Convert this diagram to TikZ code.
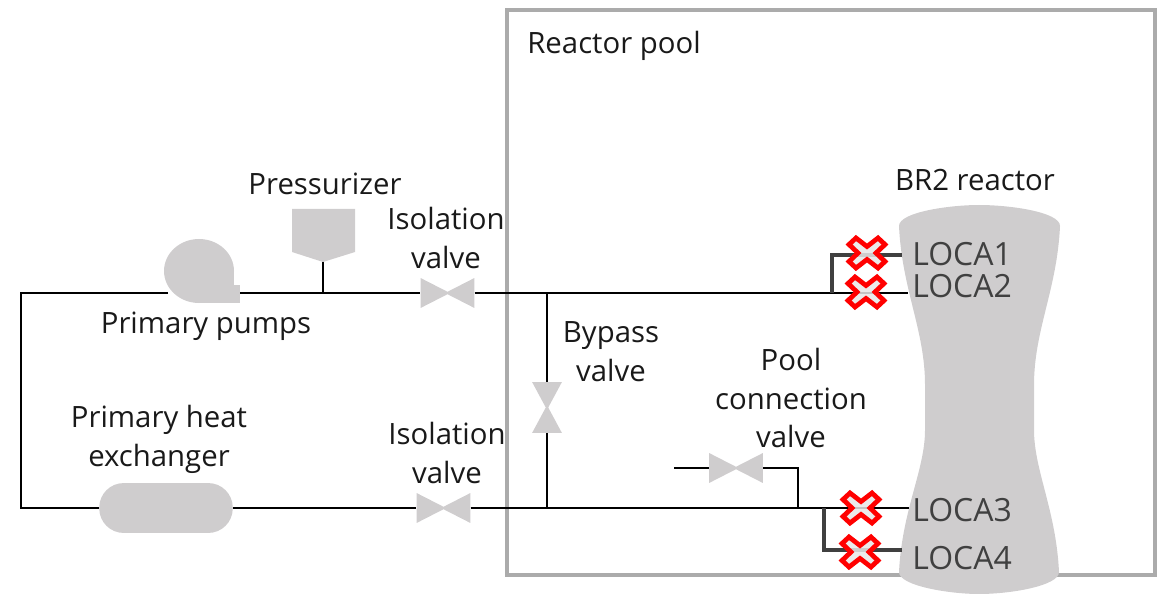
\documentclass[tikz,border=0pt]{standalone}
\usepackage{fontspec}
\setmainfont{Open Sans}
\definecolor{partgray}{HTML}{CFCDCE}
\definecolor{poolgray}{HTML}{ABABAB}
\definecolor{locagray}{HTML}{404040}
\tikzset{
  pipe/.style={line width=1.2pt,black},
  branch/.style={line width=2pt,locagray},
  txt/.style={font=\fontsize{16.7}{22.1}\selectfont,align=center,text=black!90,inner sep=0pt},
  locatxt/.style={font=\fontsize{18.2}{22}\selectfont,anchor=west,text=locagray,inner sep=0pt},
  hvalve/.style={inner sep=0pt,minimum width=30.5pt,minimum height=17pt,path picture={
    \fill[partgray] (path picture bounding box.north west) -- ([yshift=0.7pt]path picture bounding box.center)
      -- (path picture bounding box.north east) -- (path picture bounding box.south east)
      -- ([yshift=-0.7pt]path picture bounding box.center) -- (path picture bounding box.south west) -- cycle;}},
  vvalve/.style={inner sep=0pt,minimum width=17pt,minimum height=29pt,path picture={
    \fill[partgray] (path picture bounding box.north west) -- (path picture bounding box.north east)
      -- ([xshift=0.7pt]path picture bounding box.center) -- (path picture bounding box.south east)
      -- (path picture bounding box.south west) -- ([xshift=-0.7pt]path picture bounding box.center) -- cycle;}},
  lossmark/.pic={
    \draw[draw=red,fill=white!50!partgray,fill opacity=0.85,line width=2.7pt,miter limit=10]
      (-11,-15) -- (0,-6.5) -- (11,-15) -- (18,-8.5) -- (9,0) -- (18,8.5) -- (11,15) -- (0,6.5)
      -- (-11,15) -- (-18,8.5) -- (-9,0) -- (-18,-8.5) -- cycle;
  }
}
\begin{document}
\begin{tikzpicture}[x=0.02cm,y=-0.02cm]
  \useasboundingbox (0,0) rectangle (1158,594);

  \draw[poolgray,line width=2.4pt] (507,10) rectangle (1155,575);
  % reactor vessel
  \fill[partgray] (899,226) .. controls (899,212) and (950,205) .. (979,205)
    .. controls (1010,205) and (1060,212) .. (1060,226)
    .. controls (1057,290) and (1034,330) .. (1034,385) -- (1034,430)
    .. controls (1034,470) and (1056,510) .. (1059,572)
    .. controls (1059,586) and (1010,594) .. (979,594)
    .. controls (950,594) and (899,586) .. (899,572)
    .. controls (902,510) and (925,470) .. (925,430) -- (925,385)
    .. controls (925,330) and (902,290) .. (899,226) -- cycle;

  % junctions and pipe ends
  \coordinate (topleft) at (21,293);
  \coordinate (botleft) at (21,508);
  \coordinate (pumpin) at (168,293);
  \coordinate (pumpout) at (240,293);
  \coordinate (pressjoint) at (323,293);
  \coordinate (presstip) at (323,262);
  \coordinate (bypasstop) at (547,293);
  \coordinate (bypassbot) at (547,508);
  \coordinate (poolfree) at (674,468);
  \coordinate (poolelbow) at (798,468);
  \coordinate (pooljoint) at (798,508);
  \coordinate (looptop) at (832,293);
  \coordinate (loopcorner) at (832,255);
  \coordinate (loopbot) at (824,508);
  \coordinate (loopfoot) at (824,550);
  \coordinate (endone) at (902,255);
  \coordinate (endtwo) at (908,293);
  \coordinate (endthree) at (909,508);
  \coordinate (endfour) at (902,550);

  \node[hvalve] (isotop) at (447.5,293) {};
  \node[hvalve] (isobot) at (443.5,508) {};
  \node[hvalve] (poolvalve) at (736,468) {};
  \node[vvalve] (bypass) at (547,407.5) {};
  \node[fill=partgray,rounded corners=0.49cm,inner sep=0pt,minimum width=76pt,minimum height=28.4pt] (hx) at (166,508) {};

  % pump and pressurizer
  \fill[partgray] (199,271) ellipse [x radius=35,y radius=32];
  \fill[partgray] (199,271) rectangle (234,303);
  \fill[partgray] (199,285) rectangle (240,303);
  \fill[partgray] (292,209) -- (355,209) -- (355,252) -- (323,262) -- (292,252) -- cycle;

  \draw[pipe] (pumpin) -- (topleft) -- (botleft) -- (hx);
  \draw[pipe] (pumpout) -- (isotop);
  \draw[pipe] (presstip) -- (pressjoint);
  \draw[pipe] (isotop) -- (endtwo);
  \draw[pipe] (hx) -- (isobot);
  \draw[pipe] (isobot) -- (endthree);
  \draw[pipe] (bypasstop) -- (bypass);
  \draw[pipe] (bypass) -- (bypassbot);
  \draw[pipe] (poolfree) -- (poolvalve);
  \draw[pipe] (poolvalve) -- (poolelbow) -- (pooljoint);
  \draw[branch] (looptop) -- (loopcorner) -- (endone);
  \draw[branch] (loopbot) -- (loopfoot) -- (endfour);

  \foreach \mx/\my in {867/253,866/292,861/508,860/552}
    \pic at (\mx,\my) {lossmark};

  \node[txt,anchor=west] (pool) at (527,46) {Reactor pool};
  \node[txt] (reactor) at (975,180) {BR2 reactor};
  \node[txt] (press) at (325,184) {Pressurizer};
  \node[txt] (isotoptxt) at (446,238) {Isolation\\valve};
  \node[txt] (isobottxt) at (447,453) {Isolation\\valve};
  \node[txt] (pumps) at (206,326) {Primary pumps};
  \node[txt] (bypasstxt) at (611,352) {Bypass\\valve};
  \node[txt] (pooltxt) at (791,398) {Pool\\connection\\valve};
  \node[txt] (hxtxt) at (159,439) {Primary heat\\exchanger};
  \node[locatxt] (locaone) at (912,254) {LOCA1};
  \node[locatxt] (locatwo) at (912,286) {LOCA2};
  \node[locatxt] (locathree) at (912,510) {LOCA3};
  \node[locatxt] (locafour) at (912,558) {LOCA4};
\end{tikzpicture}
\end{document}
